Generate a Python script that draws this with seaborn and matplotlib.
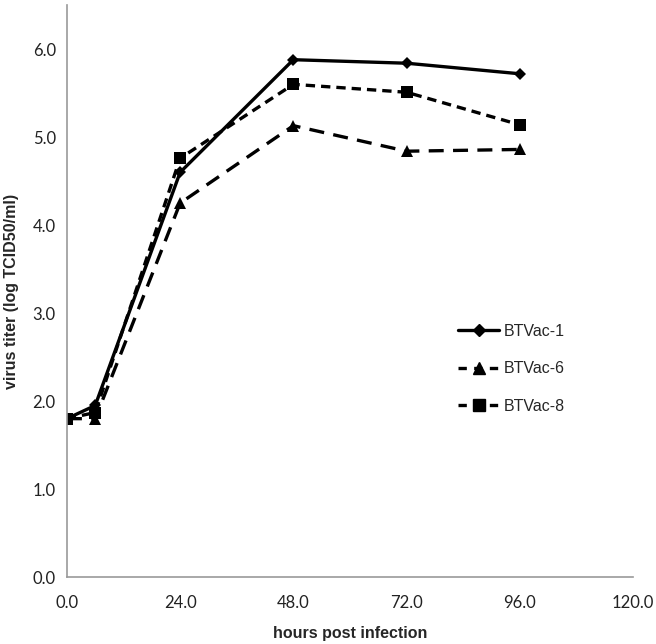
import numpy as np
import pandas as pd
import matplotlib
matplotlib.use('Agg')
import matplotlib.pyplot as plt
import seaborn as sns

hours = [0, 6, 24, 48, 72, 96]
btvac1 = [1.80, 1.95, 4.60, 5.88, 5.84, 5.72]
btvac6 = [1.80, 1.80, 4.25, 5.13, 4.84, 4.86]
btvac8 = [1.80, 1.87, 4.76, 5.60, 5.51, 5.14]
series_names = ['BTVac-1', 'BTVac-6', 'BTVac-8']

df = pd.DataFrame({
    'hours': hours * 3,
    'titer': btvac1 + btvac6 + btvac8,
    'virus': [n for n in series_names for _ in hours],
})

sns.set_style('white')
plt.rcParams['font.family'] = ['Liberation Sans', 'DejaVu Sans']

fig = plt.figure(figsize=(6.56, 6.44), dpi=100)
ax = fig.add_axes([0.102, 0.104, 0.863, 0.888])

sns.lineplot(data=df, x='hours', y='titer', hue='virus', style='virus',
             palette=['black'] * 3,
             markers={'BTVac-1': 'D', 'BTVac-6': '^', 'BTVac-8': 's'},
             dashes={'BTVac-1': '', 'BTVac-6': (4.5, 2.8), 'BTVac-8': (2.8, 1.8)},
             markersize=8, linewidth=2.4, markeredgewidth=0, ax=ax, legend=False)

# diamond smaller than the rest
for line, ms in zip(ax.get_lines(), [6, 9, 9]):
    line.set_markersize(ms)

ax.set_xlim(0, 120)
ax.set_ylim(0, 6.5)
ax.set_xticks(np.arange(0, 121, 24))
ax.set_yticks(np.arange(0, 6.1, 1.0))
ax.set_xticklabels([f'{v:.1f}' for v in np.arange(0, 121, 24)], fontfamily='Lato')
ax.set_yticklabels([f'{v:.1f}' for v in np.arange(0, 6.1, 1.0)], fontfamily='Lato')
ax.tick_params(axis='both', labelsize=12, colors='#999999', labelcolor='#222222', width=1)
ax.tick_params(axis='x', direction='inout', length=8, pad=9)
ax.tick_params(axis='y', direction='out', length=5, pad=3)

for side in ['top', 'right']:
    ax.spines[side].set_visible(False)
for side in ['left', 'bottom']:
    ax.spines[side].set_color('#999999')
    ax.spines[side].set_linewidth(1.2)

ax.set_xlabel('hours post infection', fontsize=11.5, fontweight='bold', labelpad=11)
ax.set_ylabel('virus titer (log TCID50/ml)', fontsize=11.5, fontweight='bold', labelpad=10)

handles = [
    plt.Line2D([], [], color='black', lw=2.4, marker='D', ms=6),
    plt.Line2D([], [], color='black', lw=2.4, ls=(0, (2.5, 2.2)), marker='^', ms=9),
    plt.Line2D([], [], color='black', lw=2.4, ls=(0, (2.5, 2.2)), marker='s', ms=9),
]
ax.legend(handles, series_names, loc='center left', bbox_to_anchor=(0.665, 0.364),
          frameon=False, fontsize=11.5, labelspacing=1.4, handlelength=2.6,
          handletextpad=0.3)

fig.savefig('out.png', dpi=100)
